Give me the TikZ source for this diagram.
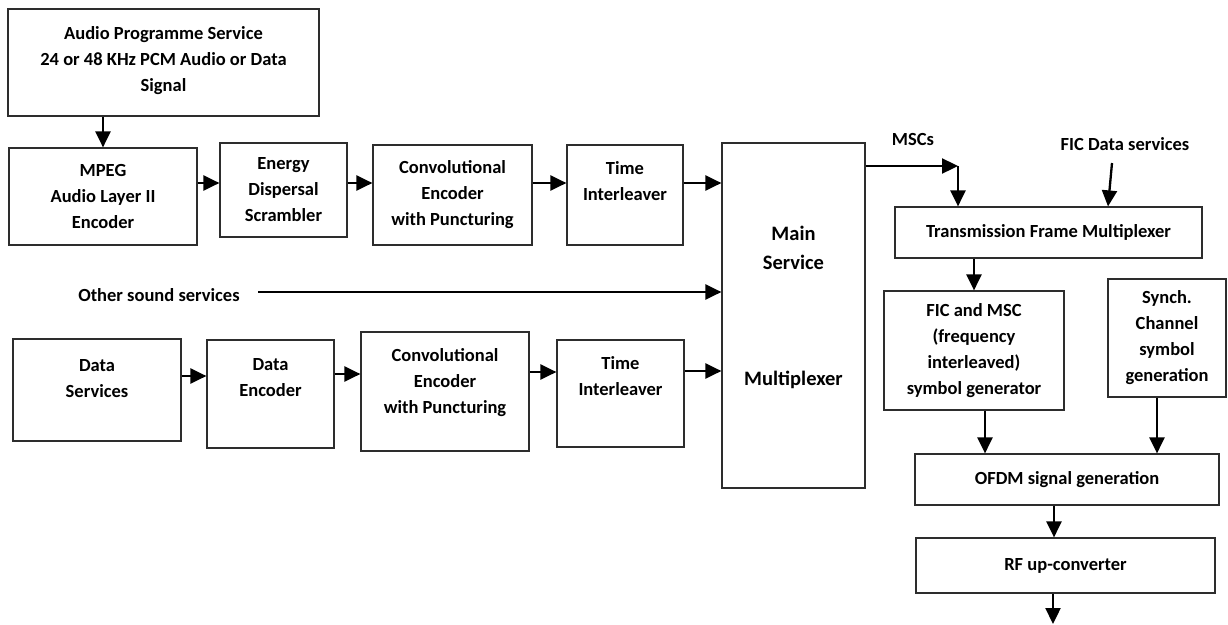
\documentclass[tikz,border=0pt]{standalone}
\usepackage{fontspec}
\setmainfont{Carlito}
\usetikzlibrary{arrows.meta}

\tikzset{
  box/.style={draw={rgb,255:red,45;green,45;blue,45}, line width=1.2pt,
    inner sep=0pt, align=center, anchor=center,
    font=\bfseries\fontsize{18.5}{26}\selectfont},
  txt/.style={inner sep=0pt, align=center,
    font=\bfseries\fontsize{18.5}{26}\selectfont},
  arr/.style={line width=2.3pt, -{Triangle[length=16pt,width=15pt]}},
}

\begin{document}
\begin{tikzpicture}[x=1pt,y=-1pt]
\useasboundingbox (0,0) rectangle (1228,624);

% left chain: audio programme path
\node[box, minimum width=311pt, minimum height=107pt] (audio) at (163.5,62.5)
  {Audio Programme Service\\24 or 48 KHz PCM Audio or Data\\Signal\\[-20pt]\mbox{}};
\node[box, minimum width=188pt, minimum height=97pt] (mpeg) at (103,196.5)
  {MPEG\\Audio Layer II\\Encoder};
\node[box, minimum width=127pt, minimum height=94pt] (energy) at (283.5,190)
  {Energy\\Dispersal\\Scrambler};
\node[box, minimum width=159pt, minimum height=100pt] (conv1) at (452.5,195)
  {Convolutional\\Encoder\\with Puncturing};
\node[box, minimum width=116pt, minimum height=100pt] (time1) at (625,195)
  {Time\\Interleaver\\[2pt]\mbox{}};

% multiplexer
\node[box, minimum width=143pt, minimum height=345pt,
  font=\bfseries\fontsize{20.5}{29}\selectfont] (main) at (793.5,315.5)
  {Main\\Service\\[87pt]Multiplexer\\[-10pt]\mbox{}};

% data path
\node[box, minimum width=168pt, minimum height=102pt] (data) at (97,390)
  {Data\\Services\\[-3pt]\mbox{}};
\node[box, minimum width=127pt, minimum height=108pt] (denc) at (270.5,394)
  {Data\\Encoder\\[8pt]\mbox{}};
\node[box, minimum width=168pt, minimum height=119pt] (conv2) at (445,391.5)
  {Convolutional\\Encoder\\with Puncturing\\[-5pt]\mbox{}};
\node[box, minimum width=127pt, minimum height=107pt] (time2) at (620.5,393.5)
  {Time\\Interleaver\\[8pt]\mbox{}};

% transmission side
\node[box, minimum width=307pt, minimum height=51pt] (tfm) at (1048.5,232.5)
  {Transmission Frame Multiplexer};
\node[box, minimum width=180pt, minimum height=119pt] (fic) at (974,350.5)
  {FIC and MSC\\(frequency\\interleaved)\\symbol generator};
\node[box, minimum width=118pt, minimum height=118pt] (synch) at (1167,338)
  {Synch.\\Channel\\symbol\\generation};
\node[box, minimum width=304pt, minimum height=51pt] (ofdm) at (1067,479.5)
  {OFDM signal generation};
\node[box, minimum width=299pt, minimum height=55pt] (rf) at (1065.5,565.5)
  {RF up-converter};

% free labels
\node[txt] (other) at (159,295) {Other sound services};
\node[txt] (msclab) at (913,139) {MSCs};
\node[txt] (ficlab) at (1125,144) {FIC Data services};

% helper coordinates for connector heights and free ends
\coordinate (ra) at (0,183);
\coordinate (rb) at (0,292);
\coordinate (rc) at (0,376);
\coordinate (rd) at (0,374);
\coordinate (re) at (0,372);
\coordinate (rf1) at (0,371);
\coordinate (oths) at (258,292);
\coordinate (msc) at (958,166);
\coordinate (ficd) at (1112,163);
\coordinate (ficd2) at (1108,0);
\coordinate (xa) at (985,0);
\coordinate (xb) at (1157,0);
\coordinate (xc) at (1054,0);
\coordinate (out) at (1053,624);

% audio chain
\draw[arr] (audio.south -| mpeg.north) -- (mpeg.north);
\draw[arr] (mpeg.east |- ra) -- (energy.west |- ra);
\draw[arr] (energy.east |- ra) -- (conv1.west |- ra);
\draw[arr] (conv1.east |- ra) -- (time1.west |- ra);
\draw[arr] (time1.east |- ra) -- (main.west |- ra);

% other sound services
\draw[arr] (oths) -- (main.west |- rb);

% data chain
\draw[arr] (data.east |- rc) -- (denc.west |- rc);
\draw[arr] (denc.east |- rd) -- (conv2.west |- rd);
\draw[arr] (conv2.east |- re) -- (time2.west |- re);
\draw[arr] (time2.east |- rf1) -- (main.west |- rf1);

% MSCs and FIC into the frame multiplexer
\draw[arr] (main.east |- msc) -- (msc);
\draw[arr] (msc) -- (msc |- tfm.north);
\draw[arr] (ficd) -- (ficd2 |- tfm.north);

% down to the RF output
\draw[arr] (tfm.south -| fic.north) -- (fic.north);
\draw[arr] (fic.south -| xa) -- (ofdm.north -| xa);
\draw[arr] (synch.south -| xb) -- (ofdm.north -| xb);
\draw[arr] (ofdm.south -| xc) -- (rf.north -| xc);
\draw[arr] (rf.south -| out) -- (out);
\end{tikzpicture}
\end{document}
